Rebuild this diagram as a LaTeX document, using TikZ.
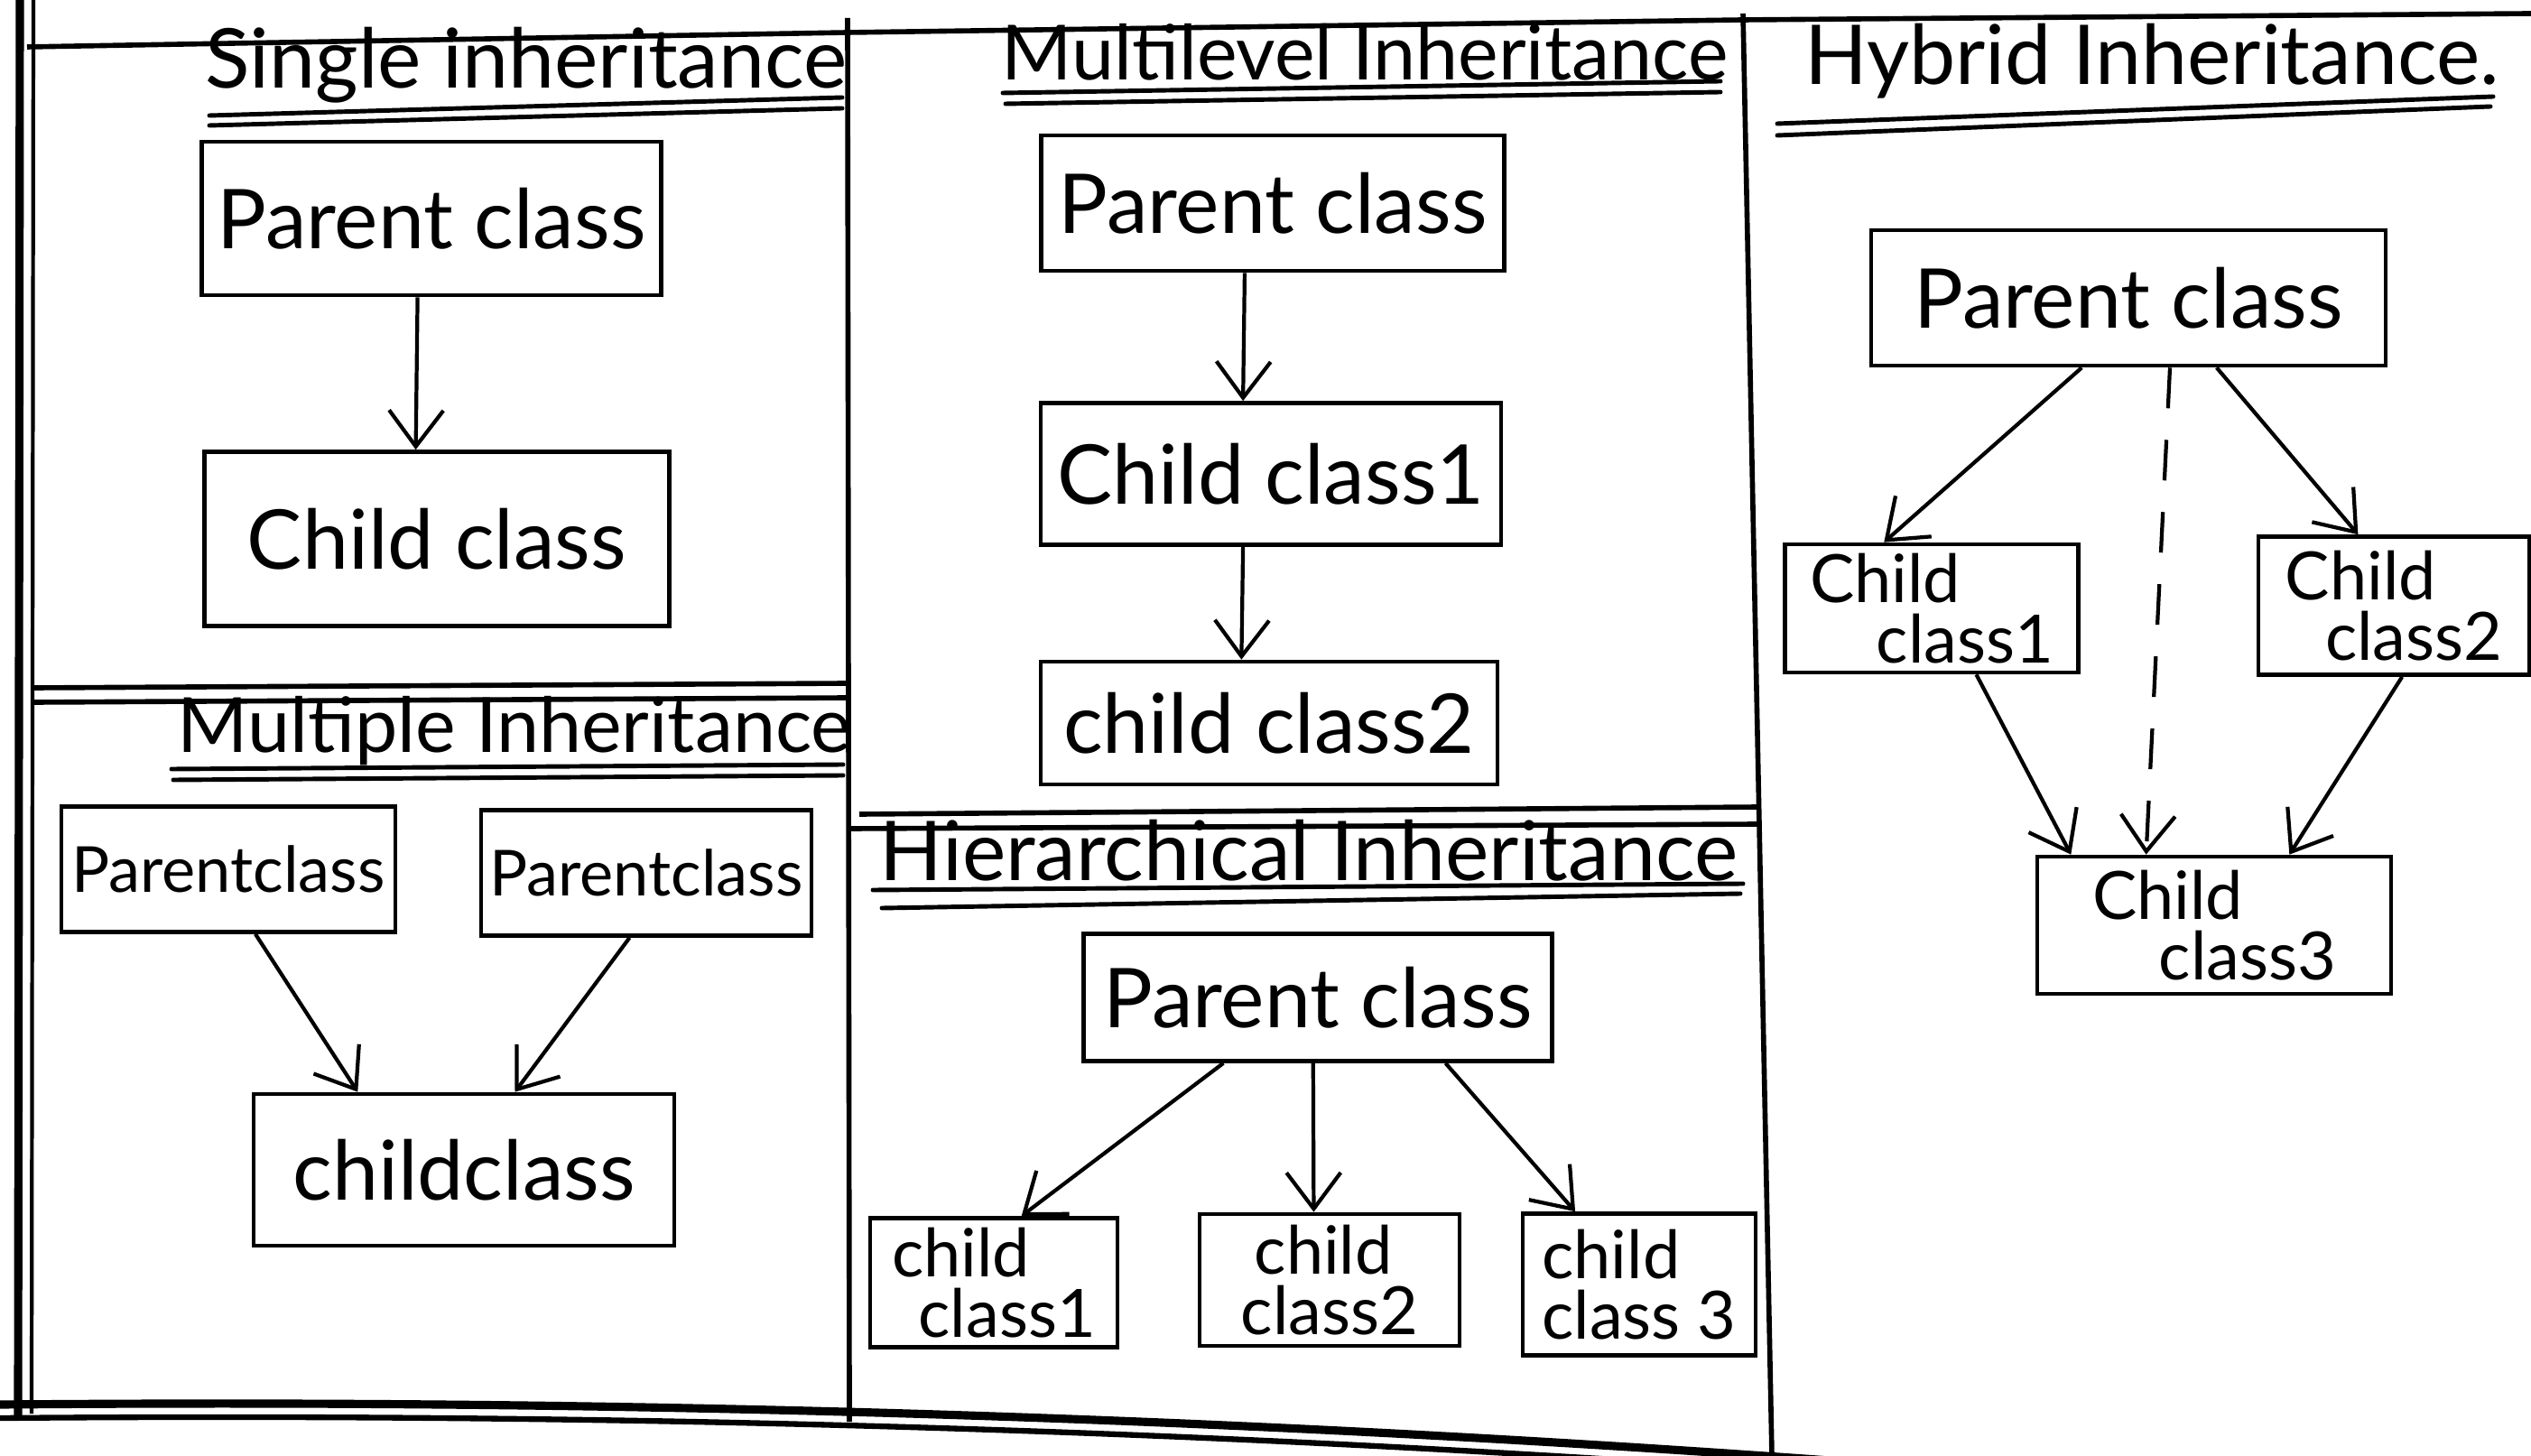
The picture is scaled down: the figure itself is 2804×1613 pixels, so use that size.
\documentclass[tikz,border=0pt]{standalone}
\usepackage{fontspec}
\setmainfont{Lato}
\usetikzlibrary{arrows.meta,calc}
\begin{document}
\begin{tikzpicture}[x=0.01cm,y=-0.01cm,
  box/.style={draw, line width=1.3pt, inner sep=0pt, font=\fontsize{26}{28}\selectfont},
  midbox/.style={box, font=\fontsize{20}{22}\selectfont},
  twoline/.style={box, align=left, font=\fontsize{21}{19}\selectfont},
  heading/.style={inner sep=0pt, font=\fontsize{26}{28}\selectfont},
  smallheading/.style={heading, font=\fontsize{24}{26}\selectfont},
  arr/.style={line width=1.2pt, -{Straight Barb[length=4mm,width=6mm]}},
  dasharr/.style={arr, dash pattern=on 4.5mm off 3.5mm},
  rule/.style={line width=1.6pt},
  uline/.style={line width=1.4pt, line cap=round}]

\useasboundingbox (0,0) rectangle (2804,1613);
\clip (0,0) rectangle (2804,1613);

% ---------- outer frame and panel dividers ----------
\draw[line width=2.6pt] (22,0) -- (20,1568);
\draw[line width=1.2pt] (37,0) -- (35,1566);
\draw[rule] (30,52) -- (939,36) -- (1931,22) -- (2804,15);
\draw[rule] (939,20) -- (941,1575);
\draw[rule] (1931,15) -- (1963,1613);
% left column split
\draw[rule] (37,762) -- (939,757);
\draw[rule] (37,778) -- (939,773);
% middle column split
\draw[rule] (952,902) -- (1948,894);
\draw[rule] (941,918) -- (1948,913);
% curved bottom edge
\draw[line width=2.6pt] (0,1556) .. controls (800,1549) and (1500,1576) .. (2200,1631);
\draw[line width=1.8pt] (0,1571) .. controls (800,1564) and (1500,1591) .. (2200,1646);

% ---------- headings ----------
\node[heading] (tsingle) at (583,72) {Single inheritance};
\draw[uline] (232,128) -- (933,108);
\draw[uline] (232,139) -- (933,120);

\node[smallheading] (tmultilevel) at (1512,58) {Multilevel Inheritance};
\draw[uline] (1111,103) -- (1906,90);
\draw[uline] (1114,115) -- (1906,102);

\node[heading] (thybrid) at (2384,68) {Hybrid Inheritance.};
\draw[uline] (1969,137) -- (2762,107);
\draw[uline] (1969,150) -- (2759,118);

\node[smallheading] (tmultiple) at (570,810) {Multiple Inheritance};
\draw[uline] (190,852) -- (934,847);
\draw[uline] (192,864) -- (934,859);

\node[heading] (thier) at (1450,942) {Hierarchical Inheritance};
\draw[uline] (967,986) -- (1931,979);
\draw[uline] (977,1006) -- (1928,990);

% ---------- single inheritance ----------
\node[box, minimum width=5.09cm, minimum height=1.70cm] (sp) at (478,242) {Parent class};
\node[box, minimum width=5.15cm, minimum height=1.93cm] (sc) at (484,597) {Child class};
\draw[arr] ($(sp.south west)!0.47!(sp.south east)$) -- ($(sc.north west)!0.455!(sc.north east)$);

% ---------- multiple inheritance ----------
\node[midbox, minimum width=3.70cm, minimum height=1.39cm] (mp1) at (253,963) {Parentclass};
\node[midbox, minimum width=3.66cm, minimum height=1.39cm] (mp2) at (716,967) {Parentclass};
\node[box, minimum width=4.66cm, minimum height=1.68cm] (mc) at (514,1296) {childclass};
\draw[arr] ($(mp1.south west)!0.58!(mp1.south east)$) -- ($(mc.north west)!0.25!(mc.north east)$);
\draw[arr] ($(mp2.south west)!0.45!(mp2.south east)$) -- ($(mc.north west)!0.62!(mc.north east)$);

% ---------- multilevel inheritance ----------
\node[box, minimum width=5.13cm, minimum height=1.50cm] (lp) at (1410,225) {Parent class};
\node[box, minimum width=5.10cm, minimum height=1.57cm] (lc1) at (1408,525) {Child class1};
\node[box, minimum width=5.06cm, minimum height=1.36cm] (lc2) at (1406,801) {child class2};
\draw[arr] ($(lp.south west)!0.44!(lp.south east)$) -- ($(lc1.north west)!0.44!(lc1.north east)$);
\draw[arr] ($(lc1.south west)!0.44!(lc1.south east)$) -- ($(lc2.north west)!0.44!(lc2.north east)$);

% ---------- hierarchical inheritance ----------
\node[box, minimum width=5.19cm, minimum height=1.41cm] (hp) at (1460,1105) {Parent class};
\node[twoline, minimum width=2.74cm, minimum height=1.43cm] (hc1) at (1101,1421) {child\\\hspace*{0.4em}class1};
\node[twoline, minimum width=2.88cm, minimum height=1.46cm] (hc2) at (1473,1418) {\hspace*{0.2em}child\\class2};
\node[twoline, minimum width=2.58cm, minimum height=1.57cm] (hc3) at (1816,1423) {child\\class 3};
\draw[arr] ($(hp.south west)!0.30!(hp.south east)$) -- ($(hc1.north west)!0.61!(hc1.north east)$);
\draw[arr] ($(hp.south west)!0.49!(hp.south east)$) -- ($(hc2.north west)!0.44!(hc2.north east)$);
\draw[arr] ($(hp.south west)!0.77!(hp.south east)$) -- ($(hc3.north west)!0.23!(hc3.north east)$);

% ---------- hybrid inheritance ----------
\node[box, minimum width=5.70cm, minimum height=1.50cm] (yp) at (2358,330) {Parent class};
\node[twoline, minimum width=3.25cm, minimum height=1.42cm] (yc1) at (2140,674) {Child\\\hspace*{1em}class1};
\node[twoline, minimum width=3.00cm, minimum height=1.53cm] (yc2) at (2652,671) {Child\\\hspace*{0.6em}class2};
\node[twoline, minimum width=3.92cm, minimum height=1.52cm] (yc3) at (2453,1025) {Child\\\hspace*{1em}class3};
\draw[arr] ($(yp.south west)!0.41!(yp.south east)$) -- ($(yc1.north west)!0.34!(yc1.north east)$);
\draw[arr] ($(yp.south west)!0.67!(yp.south east)$) -- ($(yc2.north west)!0.37!(yc2.north east)$);
\draw[dasharr] ($(yp.south west)!0.58!(yp.south east)$) -- ($(yc3.north west)!0.31!(yc3.north east)$);
\draw[arr] ($(yc1.south west)!0.65!(yc1.south east)$) -- ($(yc3.north west)!0.10!(yc3.north east)$);
\draw[arr] ($(yc2.south west)!0.53!(yc2.south east)$) -- ($(yc3.north west)!0.71!(yc3.north east)$);

\end{tikzpicture}
\end{document}
